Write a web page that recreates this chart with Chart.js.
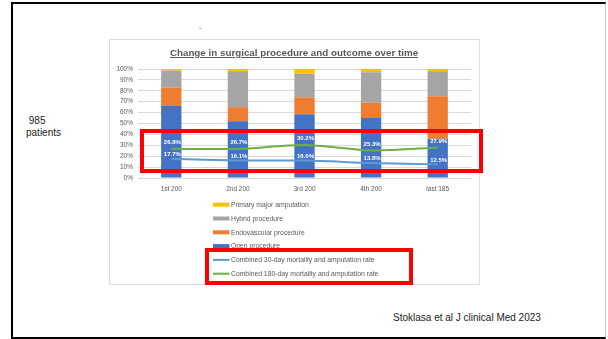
<!DOCTYPE html>
<html>
<head>
<meta charset="utf-8">
<script src="https://cdn.jsdelivr.net/npm/chart.js@4.4.0/dist/chart.umd.min.js"></script>
<style>
  html, body { margin: 0; padding: 0; background: #fff; }
  body { width: 608px; height: 339px; position: relative; overflow: hidden; font-family: "Liberation Sans", Arial, sans-serif; }
  .slide { position: absolute; left: 11px; top: 2px; width: 592px; height: 333px; border-left: 2px solid #000; border-top: 2px solid #000; border-bottom: 2px solid #000; border-right: 1px solid #c8c8c8; }
  .chartbox { position: absolute; left: 109px; top: 39px; width: 369px; height: 244px; border: 1px solid #dedede; }
  #chart { position: absolute; left: 109px; top: 39px; }
  .title { position: absolute; left: 109px; top: 47px; width: 370px; text-align: center; font-weight: bold; font-size: 9.8px; line-height: 12px; color: #595959; text-decoration: underline; }
  .side { position: absolute; left: 26px; top: 115px; font-size: 10px; line-height: 11.5px; color: #222; white-space: pre; }
  .dash { position: absolute; left: 199px; top: 24px; font-size: 7px; color: #777; }
  .foot { position: absolute; left: 393px; top: 311px; font-size: 10px; line-height: 13px; color: #222; }
  .red { position: absolute; box-sizing: border-box; border: 4px solid #ff0000; }
</style>
</head>
<body>
<div class="slide"></div>
<div class="dash">-</div>
<div class="side"> 985
patients</div>
<div class="chartbox"></div>
<canvas id="chart" width="370" height="245"></canvas>
<div class="title">Change in surgical procedure and outcome over time</div>
<div class="red" style="left:140px; top:129px; width:343px; height:44px;"></div>
<div class="red" style="left:205px; top:248px; width:208px; height:37px;"></div>
<div class="foot">Stoklasa et al J clinical Med 2023</div>

<script>
const categories = ["1st 200", "2nd 200", "3rd 200", "4th 200", "last 185"];
const openProcedure = [66, 52, 58.5, 55, 36];
const endovascularProcedure = [17, 13, 15.5, 14, 39];
const hybridProcedure = [15.5, 33, 21.7, 28, 23];
const primaryAmputation = [1.5, 2, 4.3, 3, 2];
const mortality30 = [17.7, 16.1, 16.0, 13.8, 12.5];
const mortality180 = [26.8, 26.7, 30.2, 25.3, 27.9];

const FONT = '"Liberation Sans", Arial, sans-serif';
const GREY_TEXT = "#595959";

// white value labels above the two lines
const lineLabels = {
	id: "lineLabels",
	afterDatasetsDraw(chart) {
		const ctx = chart.ctx;
		chart.data.datasets.forEach((ds, i) => {
			if (ds.type !== "line") return;
			const meta = chart.getDatasetMeta(i);
			const gap = i === 4 ? 4.5 : 6.5;
			ctx.save();
			ctx.font = "bold 6px " + FONT;
			ctx.fillStyle = "#fff";
			ctx.textAlign = "center";
			ctx.textBaseline = "middle";
			meta.data.forEach((pt, j) => {
				ctx.fillText(ds.data[j].toFixed(1) + "%", pt.x + 1, pt.y - gap);
			});
			ctx.restore();
		});
	},
};

// vertical legend under the axis, Excel style
const stackedLegend = {
	id: "stackedLegend",
	afterDraw(chart) {
		const ctx = chart.ctx;
		const order = [3, 2, 1, 0, 4, 5];
		ctx.save();
		ctx.font = "6.8px " + FONT;
		ctx.textBaseline = "middle";
		ctx.textAlign = "left";
		order.forEach((idx, row) => {
			const ds = chart.data.datasets[idx];
			const y = 165.7 + row * 13.8;
			if (ds.type === "line") {
				ctx.strokeStyle = ds.borderColor;
				ctx.lineWidth = 2;
				ctx.beginPath();
				ctx.moveTo(104, y);
				ctx.lineTo(120.5, y);
				ctx.stroke();
			} else {
				ctx.fillStyle = ds.backgroundColor;
				ctx.fillRect(104, y - 2, 16.5, 4);
			}
			ctx.fillStyle = GREY_TEXT;
			ctx.fillText(ds.label, 122, y + 0.5);
		});
		ctx.restore();
	},
};

new Chart(document.getElementById("chart"), {
	type: "bar",
	data: {
		labels: categories,
		datasets: [
			{ label: "Open procedure", data: openProcedure, backgroundColor: "#4472C4", order: 1 },
			{ label: "Endovascular procedure", data: endovascularProcedure, backgroundColor: "#ED7D31", order: 1 },
			{ label: "Hybrid procedure", data: hybridProcedure, backgroundColor: "#A5A5A5", order: 1 },
			{ label: "Primary major amputation", data: primaryAmputation, backgroundColor: "#FFC000", order: 1 },
			{
				type: "line",
				label: "Combined 30-day mortality and amputation rate",
				data: mortality30,
				borderColor: "#5B9BD5",
				backgroundColor: "#5B9BD5",
				borderWidth: 2,
				pointRadius: 0,
				tension: 0.25,
				stack: "l30",
				order: 0,
			},
			{
				type: "line",
				label: "Combined 180-day mortality and amputation rate",
				data: mortality180,
				borderColor: "#70AD47",
				backgroundColor: "#70AD47",
				borderWidth: 2,
				pointRadius: 0,
				tension: 0.25,
				stack: "l180",
				order: 0,
			},
		],
	},
	options: {
		responsive: false,
		animation: false,
		devicePixelRatio: 1,
		categoryPercentage: 1,
		barPercentage: 0.305,
		layout: { padding: { left: 0, right: 8, top: 30, bottom: 86 } },
		plugins: {
			legend: { display: false },
			tooltip: { enabled: false },
		},
		scales: {
			x: {
				stacked: true,
				grid: { display: false, drawTicks: false },
				border: { display: false },
				ticks: { font: { size: 6.5, family: FONT }, color: GREY_TEXT, padding: 7, maxRotation: 0 },
				afterFit: (scale) => { scale.height = 20; },
			},
			y: {
				stacked: true,
				min: 0,
				max: 100,
				grid: { color: "#d9d9d9", lineWidth: 1, drawTicks: false },
				border: { display: false },
				ticks: {
					stepSize: 10,
					padding: 5,
					font: { size: 6.5, family: FONT },
					color: GREY_TEXT,
					callback: (v) => v + "%",
				},
				afterFit: (scale) => { scale.width = 29; },
			},
		},
	},
	plugins: [lineLabels, stackedLegend],
});
</script>
</body>
</html>
